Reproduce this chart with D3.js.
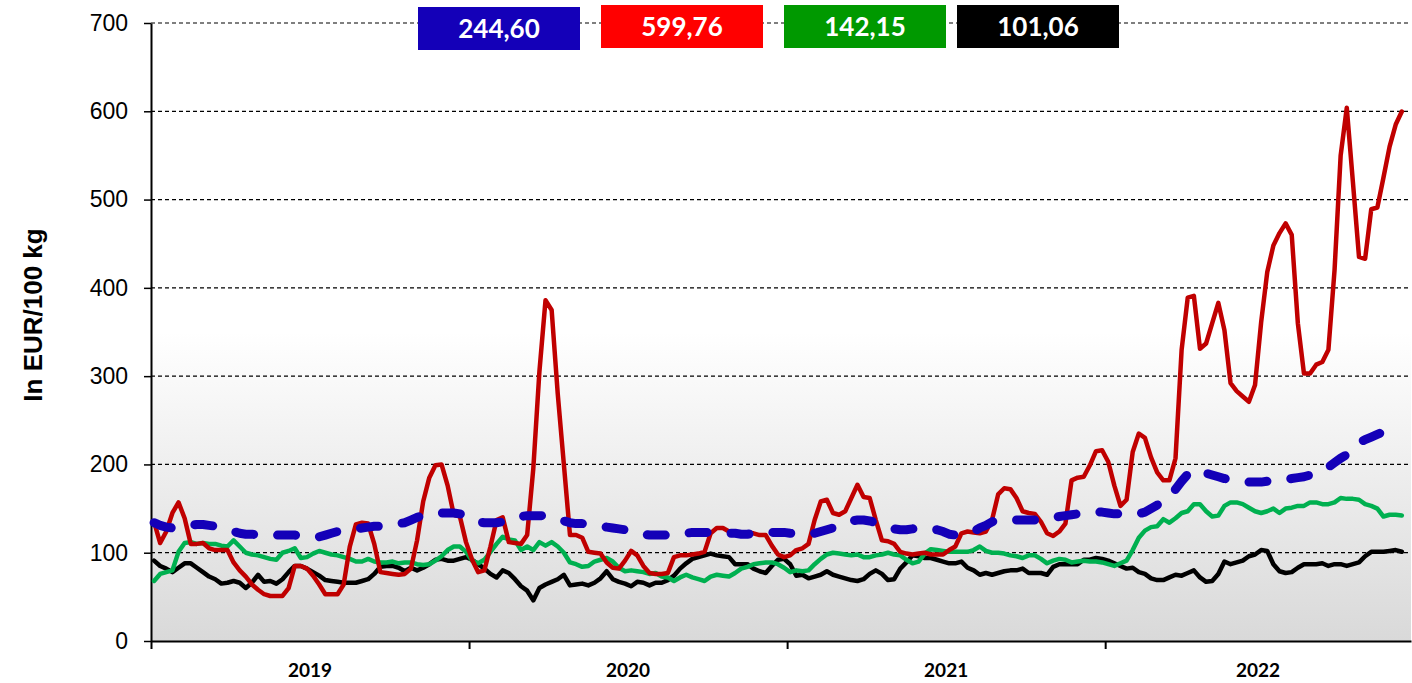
<!DOCTYPE html>
<html>
<head>
<meta charset="utf-8">
<script src="https://cdn.jsdelivr.net/npm/d3@7"></script>
<style>
  body { margin: 0; background: #fff; }
  svg { display: block; }
</style>
</head>
<body>
<svg id="chart" width="1412" height="683"></svg>
<script>
// weekly prices, EUR/100 kg, 2019 .. 2022
const years = ["2019", "2020", "2021", "2022"];
const yearSlots = [52, 52, 52, 50]; // category slots per year on the axis
const yTicks = [0, 100, 200, 300, 400, 500, 600, 700];
const legendValues = ["244,60", "599,76", "142,15", "101,06"];

const blueSeries = [
  134,131,129,128,128,129,131,132,132,131,130,128,126,124,122,121,121,120,120,120,120,120,120,120,119,118,118,118,120,122,124,125,126,127,128,129,130,130,131,132,133,134,137,140,142,144,145,145,145,145,144,142,
  139,135,134,134,134,135,137,140,141,142,142,142,142,141,139,136,134,133,133,132,131,130,129,128,127,126,124,122,121,120,120,120,120,120,121,122,123,123,123,123,123,123,122,122,121,121,122,122,122,123,123,123,
  122,122,121,121,122,124,126,128,131,134,136,137,137,136,134,131,128,127,126,126,127,128,128,127,126,124,121,120,120,121,124,128,131,135,137,137,137,137,137,137,137,137,138,140,141,142,143,144,145,145,146,146,
  145,144,144,143,143,144,146,150,154,158,163,172,181,189,194,193,190,188,186,184,183,182,181,180,180,180,181,181,182,183,184,185,186,188,190,193,197,202,207,211,217,225,228,231,234,237,239,242,244.60
];

const redSeries = [
  135,111,124,145,157,139,110,110,111,105,103,103,103,89,80,73,64,58,53,51,51,51,60,85,85,82,74,64,53,53,53,64,107,132,134,133,110,78,77,76,75,76,82,114,158,185,199,200,176,143,141,112,
  92,78,80,107,137,140,112,111,110,120,195,305,386,375,280,200,120,120,117,101,100,99,89,83,82,91,102,97,85,77,76,76,77,95,97,97,98,99,101,122,128,128,124,123,123,123,122,120,120,108,98,95,
  97,103,105,110,137,158,160,145,143,147,162,177,163,162,137,114,113,110,101,99,98,99,100,98,98,98,103,107,122,124,123,122,124,137,166,173,172,162,147,145,144,135,122,119,124,133,182,185,186,199,215,216,
  203,176,153,160,214,235,230,208,191,182,182,207,330,389,391,331,337,360,383,352,292,283,277,271,290,361,418,448,462,473,460,360,303,303,313,316,330,420,550,604,520,435,433,489,491,525,560,585,599.76
];

const greenSeries = [
  68,76,78,80,101,111,112,110,111,110,110,108,107,114,107,100,98,97,95,93,92,100,102,105,94,95,99,102,100,98,97,95,93,90,90,93,90,89,89,90,88,89,89,87,86,87,91,96,103,107,107,101,
  91,88,92,101,110,118,115,114,103,107,103,112,108,112,107,100,89,87,84,85,90,92,94,90,83,79,80,79,78,76,77,73,72,68,72,75,72,70,68,73,75,74,73,77,82,84,87,88,89,89,87,83,
  78,80,79,80,87,93,98,100,99,98,97,98,95,95,97,98,100,98,97,92,88,90,99,104,103,102,101,101,101,101,103,107,102,100,100,99,97,96,94,97,97,93,88,91,93,92,89,90,91,90,90,89,
  87,85,88,91,103,117,125,129,130,138,134,139,145,147,155,155,147,141,142,153,157,157,155,151,147,145,147,150,145,150,151,153,153,157,157,155,155,157,162,161,161,160,155,153,150,141,143,143,142.15
];

const blackSeries = [
  91,85,82,78,83,88,88,83,78,73,70,65,66,68,66,60,66,75,67,68,65,70,78,85,85,82,78,74,69,68,67,66,66,66,68,70,76,84,85,85,83,79,83,80,83,87,92,93,91,91,93,95,
  92,87,82,76,72,80,77,70,62,57,46,60,64,67,70,75,63,64,65,63,66,71,79,70,67,65,62,67,66,63,66,66,69,74,82,88,93,95,97,99,97,96,95,87,87,87,82,79,77,85,92,93,
  87,74,75,71,73,75,79,75,73,71,69,68,70,76,80,76,69,70,82,89,97,96,94,94,92,90,88,88,90,83,80,75,77,75,77,79,80,80,82,77,77,77,75,84,87,87,87,87,92,92,94,93,
  91,88,85,82,83,78,76,71,69,69,72,75,74,77,80,72,67,68,76,90,87,89,91,96,98,103,102,87,79,77,78,83,87,87,87,88,85,87,87,85,87,89,96,101,101,101,102,103,101.06
];

const WIDTH = 1412, HEIGHT = 683;
const margin = { left: 151, right: 1, top: 23, bottom: 42 };
const totalSlots = d3.sum(yearSlots);

const svg = d3.select("#chart");

const x = d3.scaleLinear()
  .domain([0, totalSlots])
  .range([margin.left, WIDTH - margin.right]);

const y = d3.scaleLinear()
  .domain([0, 700])
  .range([HEIGHT - margin.bottom, margin.top]);

// plot background: white fading to light grey at the bottom
const defs = svg.append("defs");
const grad = defs.append("linearGradient")
  .attr("id", "bg")
  .attr("x1", 0).attr("y1", 0).attr("x2", 0).attr("y2", 1);
grad.append("stop").attr("offset", "0%").attr("stop-color", "#ffffff");
grad.append("stop").attr("offset", "50%").attr("stop-color", "#ffffff");
grad.append("stop").attr("offset", "100%").attr("stop-color", "#d9d9d9");

svg.append("rect")
  .attr("x", x(0))
  .attr("y", y(700))
  .attr("width", x(totalSlots) - x(0))
  .attr("height", y(0) - y(700))
  .attr("fill", "url(#bg)");

// dashed horizontal gridlines
svg.append("g")
  .selectAll("line")
  .data(yTicks.filter(d => d > 0))
  .enter()
  .append("line")
  .attr("x1", x(0))
  .attr("x2", x(totalSlots))
  .attr("y1", d => y(d))
  .attr("y2", d => y(d))
  .attr("stroke", "#000")
  .attr("stroke-width", 1.2)
  .attr("stroke-dasharray", "4,3");

// y axis
const yAxis = svg.append("g")
  .attr("transform", `translate(${x(0)},0)`)
  .call(d3.axisLeft(y).tickValues(yTicks).tickSize(7).tickSizeOuter(0).tickPadding(16));
yAxis.select(".domain").attr("stroke", "#000").attr("stroke-width", 2);
yAxis.selectAll(".tick line").attr("stroke", "#000").attr("stroke-width", 1.5);
yAxis.selectAll("text")
  .attr("font-family", "'Liberation Sans', Arial, sans-serif")
  .attr("font-size", 23)
  .attr("fill", "#000");

// x axis with year separators
const yearStarts = [0];
yearSlots.forEach((n, i) => yearStarts.push(yearStarts[i] + n));

const xAxis = svg.append("g")
  .attr("transform", `translate(0,${y(0)})`)
  .call(d3.axisBottom(x).tickValues(yearStarts.slice(0, years.length)).tickSize(8).tickSizeOuter(0).tickFormat(""));
xAxis.select(".domain").attr("stroke", "#000").attr("stroke-width", 2);
xAxis.selectAll(".tick line").attr("stroke", "#000").attr("stroke-width", 2);

svg.append("g")
  .selectAll("text")
  .data(years)
  .enter()
  .append("text")
  .attr("x", (d, i) => x((yearStarts[i] + yearStarts[i + 1]) / 2))
  .attr("y", 677)
  .attr("text-anchor", "middle")
  .attr("font-family", "Lato, 'Open Sans', sans-serif")
  .attr("font-weight", "bold")
  .attr("font-size", 19)
  .text(d => d);

// y axis title
svg.append("text")
  .attr("transform", "translate(42,315) rotate(-90)")
  .attr("text-anchor", "middle")
  .attr("font-family", "'Liberation Sans', Arial, sans-serif")
  .attr("font-weight", "bold")
  .attr("font-size", 26)
  .text("In EUR/100 kg");

// lines
const line = d3.line()
  .x((d, i) => x(i + 0.5))
  .y(d => y(d));

const series = [
  { data: blackSeries, color: "#000000", width: 4.5, dash: null },
  { data: greenSeries, color: "#00b050", width: 4.5, dash: null },
  { data: redSeries, color: "#c00000", width: 4.5, dash: null },
  { data: blueSeries, color: "#1400b8", width: 9, dash: "18,24" }
];

svg.append("g")
  .selectAll("path")
  .data(series)
  .enter()
  .append("path")
  .attr("d", d => line(d.data))
  .attr("fill", "none")
  .attr("stroke", d => d.color)
  .attr("stroke-width", d => d.width)
  .attr("stroke-linejoin", "round")
  .attr("stroke-linecap", "round")
  .attr("stroke-dasharray", d => d.dash);

// value boxes at the top
const boxColors = ["#1400b8", "#ff0000", "#009900", "#000000"];
const boxLeft = [418, 601, 784, 957];
const boxTop = [7, 5, 5, 5];
const boxes = svg.append("g")
  .selectAll("g")
  .data(legendValues)
  .enter()
  .append("g")
  .attr("transform", (d, i) => `translate(${boxLeft[i]},${boxTop[i]})`);

boxes.append("rect")
  .attr("width", 162)
  .attr("height", 43)
  .attr("fill", (d, i) => boxColors[i]);

boxes.append("text")
  .attr("x", 81)
  .attr("y", 31)
  .attr("text-anchor", "middle")
  .attr("font-family", "Lato, 'Open Sans', sans-serif")
  .attr("font-weight", "bold")
  .attr("font-size", 26)
  .attr("fill", "#fff")
  .text(d => d);
</script>
</body>
</html>
